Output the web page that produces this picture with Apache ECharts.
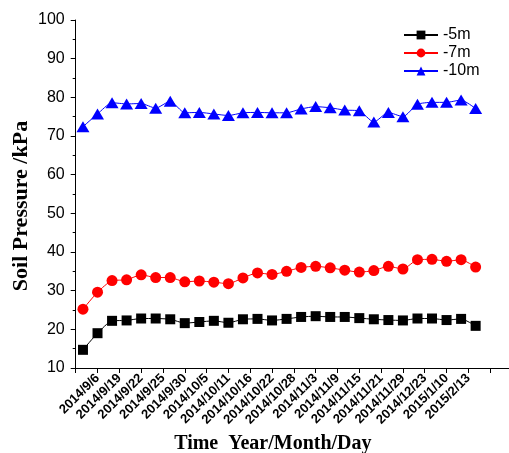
<!DOCTYPE html>
<html><head><meta charset="utf-8">
<script src="https://cdn.jsdelivr.net/npm/echarts@6/dist/echarts.min.js"></script>
<style>html,body{margin:0;padding:0;background:#fff}#c{width:509px;height:453px}</style>
</head><body><div id="c"></div>
<script>
const tickLabels = ['2014/9/6','2014/9/19','2014/9/22','2014/9/25','2014/9/30','2014/10/5','2014/10/11','2014/10/16','2014/10/22','2014/10/28','2014/11/3','2014/11/9','2014/11/15','2014/11/21','2014/11/29','2014/12/23','2015/1/10','2015/2/13'];
const m5 = [14.7,19.0,22.2,22.3,22.8,22.8,22.6,21.6,21.9,22.2,21.7,22.6,22.7,22.3,22.7,23.2,23.4,23.2,23.2,22.9,22.6,22.4,22.3,22.8,22.8,22.4,22.7,20.9];
const m7 = [25.2,29.6,32.6,32.8,34.1,33.4,33.4,32.3,32.5,32.2,31.8,33.3,34.6,34.2,35.0,36.0,36.3,35.9,35.3,34.8,35.2,36.3,35.6,38.0,38.1,37.6,38.0,36.1];
const m10 = [72.4,75.7,78.6,78.3,78.4,77.2,79.0,76.0,76.1,75.7,75.3,76.0,76.1,76.0,76.0,77.0,77.6,77.3,76.7,76.5,73.6,76.1,75.0,78.2,78.7,78.7,79.3,77.1];
const pts = a => a.map((v,i)=>[i+0.5, v]);
const chart = echarts.init(document.getElementById('c'));
const mk = (name, data, color, symbol, size) => ({
  name, type:'line', data: pts(data), symbol, symbolSize: size, smooth: 0.2,
  lineStyle:{color, width:1}, itemStyle:{color}
});
chart.setOption({
  animation:false,
  grid:{left:75.7, right:-3, top:20, bottom:85, containLabel:false, outerBoundsMode:'none'},
  legend:{
    left:398, top:22, orient:'vertical', itemGap:2, itemWidth:34, itemHeight:11,
    textStyle:{fontFamily:'Liberation Sans', fontSize:16, color:'#000'},
    data:['-5m','-7m','-10m']
  },
  xAxis:{
    type:'value', min:0, max:30, interval:1.5,
    name:'Time  Year/Month/Day', nameLocation:'middle', nameGap:65,
    nameTextStyle:{fontFamily:'Liberation Serif', fontWeight:'bold', fontSize:20, color:'#000', padding:[0,42,0,0]},
    axisLine:{lineStyle:{color:'#000', width:1}},
    axisTick:{show:true, length:5, lineStyle:{color:'#000'}},
    splitLine:{show:false},
    axisLabel:{
      rotate:45, fontFamily:'Liberation Sans', fontWeight:'bold', fontSize:13, color:'#000', margin:8,
      showMinLabel:true, showMaxLabel:true, hideOverlap:false,
      formatter: v => { const k = Math.round(v/1.5); return (k>=1 && k<=tickLabels.length) ? tickLabels[k-1] : ''; }
    }
  },
  yAxis:{
    type:'value', min:10, max:100, interval:10,
    name:'Soil Pressure /kPa', nameLocation:'middle', nameGap:43, nameMoveOverlap:false,
    nameTextStyle:{fontFamily:'Liberation Serif', fontWeight:'bold', fontSize:22, color:'#000', padding:[0,24,0,0]},
    axisLine:{show:true, lineStyle:{color:'#000', width:1}},
    axisTick:{show:true, length:5, lineStyle:{color:'#000'}},
    minorTick:{show:true, splitNumber:2, length:3, lineStyle:{color:'#000'}},
    splitLine:{show:false},
    axisLabel:{fontFamily:'Liberation Sans', fontSize:16, color:'#000', margin:11}
  },
  series:[
    mk('-5m', m5, '#000000', 'rect', 10),
    mk('-7m', m7, '#ff0000', 'circle', 11),
    mk('-10m', m10, '#0000ff', 'triangle', [13,11])
  ]
});
</script></body></html>
